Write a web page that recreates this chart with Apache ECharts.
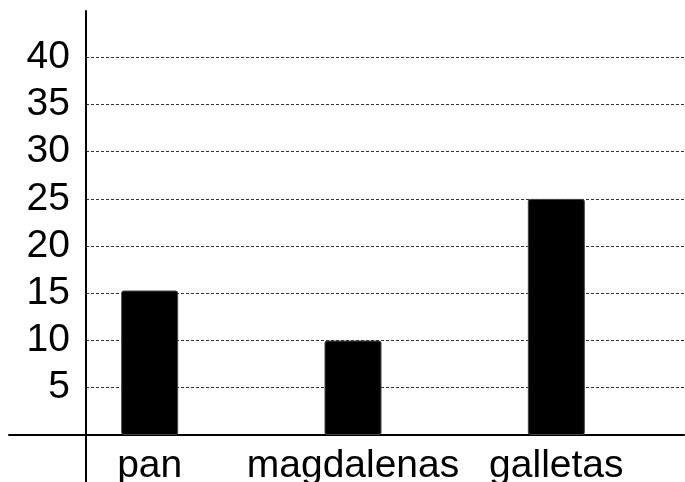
<!DOCTYPE html>
<html>
<head>
<meta charset="utf-8">
<script src="https://cdn.jsdelivr.net/npm/echarts@6/dist/echarts.min.js"></script>
<style>
  html, body { margin: 0; padding: 0; background: #ffffff; }
  #chart { width: 685px; height: 482px; }
</style>
</head>
<body>
<div id="chart"></div>
<script>
const categories = ['pan', 'magdalenas', 'galletas'];
const values = [15.3, 10, 25];
const tickLabels = [5, 10, 15, 20, 25, 30, 35, 40];

const FONT = '"Liberation Sans", Arial, sans-serif';
const Y_MIN = -5, Y_MAX = 44.9, Y_STEP = 5;
const TOP = 11;

const chart = echarts.init(document.getElementById('chart'), null, { renderer: 'canvas' });

chart.setOption({
  backgroundColor: '#ffffff',
  animation: false,
  grid: [
    { left: 86, right: 1, top: TOP, bottom: 0, outerBoundsMode: 'none', containLabel: false },
    { left: 48, right: 27, top: TOP, bottom: 47, outerBoundsMode: 'none', containLabel: false },
    { left: 9, right: 1, top: TOP, bottom: 0, outerBoundsMode: 'none', containLabel: false }
  ],
  xAxis: [
    { type: 'value', gridIndex: 0, show: false },
    {
      type: 'category', gridIndex: 1, data: categories,
      axisLine: { show: false },
      axisTick: { show: false },
      axisLabel: { color: '#000', fontSize: 39, fontFamily: FONT, margin: 12, interval: 0 },
      splitLine: { show: false }
    },
    {
      type: 'category', gridIndex: 2, data: [''],
      axisLine: { show: true, onZero: true, lineStyle: { color: '#000', width: 2 } },
      axisTick: { show: false },
      axisLabel: { show: false },
      splitLine: { show: false }
    }
  ],
  yAxis: [
    {
      type: 'value', gridIndex: 0, min: Y_MIN, max: Y_MAX, interval: Y_STEP,
      axisLine: { show: true, onZero: false, lineStyle: { color: '#000', width: 2 } },
      axisTick: { show: false },
      axisLabel: {
        color: '#000', fontSize: 39, fontFamily: FONT, margin: 16,
        showMinLabel: false, showMaxLabel: false,
        formatter: (v) => tickLabels.includes(v) ? String(v) : ''
      },
      splitLine: {
        show: true, showMinLine: false, showMaxLine: false,
        lineStyle: { color: '#333', width: 1, type: [3, 2] }
      }
    },
    { type: 'value', gridIndex: 1, min: 0, max: Y_MAX, interval: Y_STEP, show: false },
    { type: 'value', gridIndex: 2, min: Y_MIN, max: Y_MAX, interval: Y_STEP, show: false }
  ],
  series: [{
    type: 'bar',
    xAxisIndex: 1, yAxisIndex: 1,
    data: values,
    barWidth: 57,
    itemStyle: { color: '#000', borderColor: '#444', borderWidth: 1, borderRadius: 2 },
    z: 3
  }]
});
</script>
</body>
</html>
